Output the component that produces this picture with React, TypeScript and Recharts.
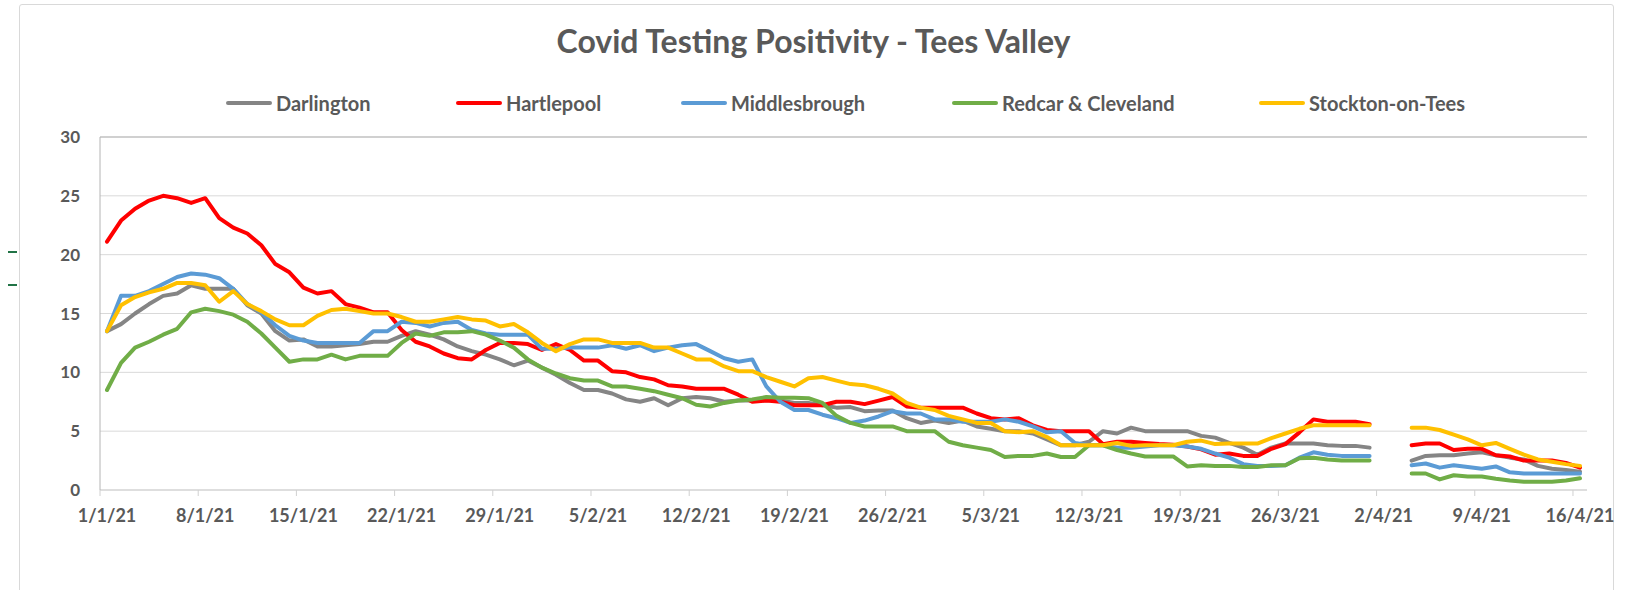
import { LineChart, Line, XAxis, YAxis, CartesianGrid, ReferenceLine } from "recharts";

// categories: one slot per day, 1 Jan 2021 .. 16 Apr 2021
const START = new Date(2021, 0, 1);
const DAY_COUNT = 106;
const dates: string[] = Array.from({ length: DAY_COUNT }, (_, i) => {
  const d = new Date(START.getFullYear(), START.getMonth(), START.getDate() + i);
  return `${d.getDate()}/${d.getMonth() + 1}/21`;
});

const Y_TICKS = [0, 5, 10, 15, 20, 25, 30];

// positivity (%) read from the sheet; Easter gap left empty
const darlington = [
  13.5, 14.1, 15.0, 15.8, 16.5, 16.7, 17.4, 17.1, 17.1, 17.1,
  15.7, 15.0, 13.5, 12.7, 12.8, 12.2, 12.2, 12.3, 12.4, 12.6,
  12.6, 13.1, 13.5, 13.2, 12.8, 12.2, 11.8, 11.5, 11.1, 10.6,
  11.0, 10.4, 9.8, 9.1, 8.5, 8.5, 8.2, 7.7, 7.5, 7.8,
  7.2, 7.8, 7.9, 7.8, 7.5, 7.6, 7.6, 7.65, 7.6, 7.4,
  7.4, 7.2, 7.0, 7.05, 6.7, 6.75, 6.75, 6.1, 5.7, 5.9,
  5.7, 5.9, 5.4, 5.2, 5.0, 5.0, 4.8, 4.3, 3.8, 3.8,
  4.1, 5.0, 4.8, 5.3, 5.0, 5.0, 5.0, 5.0, 4.6, 4.45,
  4.0, 3.6, 3.0, 3.6, 3.95, 3.95, 3.95, 3.8, 3.75, 3.75,
  3.6, null, null, 2.5, 2.9, 2.95, 2.95, 3.1, 3.2, 2.95,
  2.75, 2.6, 2.05, 1.8, 1.7, 1.55,
];

const hartlepool = [
  21.1, 22.9, 23.9, 24.6, 25.0, 24.8, 24.4, 24.8, 23.1, 22.3,
  21.8, 20.8, 19.2, 18.5, 17.2, 16.7, 16.9, 15.8, 15.5, 15.1,
  15.1, 13.6, 12.6, 12.2, 11.6, 11.2, 11.1, 11.9, 12.5, 12.5,
  12.4, 11.9, 12.4, 11.9, 11.0, 11.0, 10.1, 10.0, 9.6, 9.4,
  8.9, 8.8, 8.6, 8.6, 8.6, 8.1, 7.5, 7.6, 7.5, 7.2,
  7.2, 7.2, 7.5, 7.5, 7.3, 7.6, 7.9, 7.1, 7.0, 7.0,
  7.0, 7.0, 6.5, 6.1, 6.0, 6.1, 5.5, 5.1, 5.0, 5.0,
  5.0, 3.9, 4.1, 4.1, 4.0, 3.9, 3.85, 3.7, 3.45, 3.0,
  3.1, 2.9, 2.9, 3.5, 3.9, 4.9, 6.0, 5.8, 5.8, 5.8,
  5.6, null, null, 3.8, 3.95, 3.95, 3.4, 3.5, 3.5, 2.95,
  2.85, 2.5, 2.5, 2.5, 2.3, 1.9,
];

const middlesbrough = [
  13.5, 16.5, 16.5, 16.9, 17.5, 18.1, 18.4, 18.3, 18.0, 17.1,
  15.8, 15.1, 14.0, 13.1, 12.7, 12.5, 12.5, 12.5, 12.5, 13.5,
  13.5, 14.3, 14.2, 13.9, 14.2, 14.3, 13.6, 13.3, 13.2, 13.2,
  13.2, 12.0, 12.0, 12.1, 12.1, 12.1, 12.3, 12.0, 12.3, 11.8,
  12.1, 12.3, 12.4, 11.8, 11.2, 10.9, 11.1, 8.8, 7.5, 6.8,
  6.8, 6.4, 6.1, 5.7, 5.9, 6.25, 6.7, 6.5, 6.5, 6.0,
  6.0, 5.8, 5.8, 5.8, 6.0, 5.8, 5.4, 4.9, 5.0, 4.0,
  3.8, 3.8, 3.6, 3.6, 3.7, 3.8, 3.8, 3.7, 3.5, 3.1,
  2.75, 2.2, 2.05, 2.05, 2.1, 2.75, 3.2, 3.0, 2.9, 2.9,
  2.9, null, null, 2.1, 2.25, 1.9, 2.1, 1.95, 1.8, 2.0,
  1.5, 1.4, 1.4, 1.4, 1.4, 1.4,
];

const redcar = [
  8.5, 10.8, 12.1, 12.6, 13.2, 13.7, 15.1, 15.4, 15.2, 14.9,
  14.3, 13.3, 12.1, 10.9, 11.1, 11.1, 11.5, 11.1, 11.4, 11.4,
  11.4, 12.5, 13.3, 13.1, 13.4, 13.4, 13.5, 13.2, 12.7, 12.1,
  11.1, 10.4, 9.9, 9.5, 9.3, 9.3, 8.8, 8.8, 8.6, 8.4,
  8.1, 7.8, 7.25, 7.1, 7.4, 7.6, 7.7, 7.9, 7.85, 7.85,
  7.8, 7.4, 6.3, 5.7, 5.4, 5.4, 5.4, 5.0, 5.0, 5.0,
  4.1, 3.8, 3.6, 3.4, 2.8, 2.9, 2.9, 3.1, 2.8, 2.8,
  3.8, 3.8, 3.4, 3.1, 2.85, 2.85, 2.85, 2.0, 2.1, 2.05,
  2.05, 1.95, 1.95, 2.1, 2.1, 2.7, 2.75, 2.6, 2.5, 2.5,
  2.5, null, null, 1.4, 1.4, 0.9, 1.25, 1.15, 1.15, 0.95,
  0.8, 0.7, 0.7, 0.7, 0.8, 1.0,
];

const stockton = [
  13.5, 15.7, 16.4, 16.8, 17.1, 17.6, 17.6, 17.4, 16.0, 16.9,
  15.8, 15.2, 14.5, 14.0, 14.0, 14.8, 15.3, 15.4, 15.2, 15.0,
  15.0, 14.7, 14.3, 14.3, 14.5, 14.7, 14.5, 14.4, 13.9, 14.1,
  13.4, 12.5, 11.8, 12.4, 12.8, 12.8, 12.5, 12.5, 12.5, 12.1,
  12.1, 11.6, 11.1, 11.1, 10.5, 10.1, 10.1, 9.6, 9.2, 8.8,
  9.5, 9.6, 9.3, 9.0, 8.9, 8.6, 8.2, 7.4, 7.0, 6.8,
  6.3, 6.0, 5.7, 5.7, 5.0, 4.9, 5.0, 4.5, 3.8, 3.8,
  3.8, 3.8, 4.0, 3.75, 3.8, 3.8, 3.8, 4.1, 4.2, 3.9,
  3.95, 3.95, 3.95, 4.4, 4.8, 5.2, 5.5, 5.5, 5.5, 5.5,
  5.5, null, null, 5.3, 5.3, 5.1, 4.7, 4.3, 3.8, 4.0,
  3.5, 3.0, 2.6, 2.4, 2.2, 2.05,
];

const SERIES = [
  { key: "Darlington", values: darlington, color: "#858585" },
  { key: "Hartlepool", values: hartlepool, color: "#ff0000" },
  { key: "Middlesbrough", values: middlesbrough, color: "#5b9bd5" },
  { key: "Redcar & Cleveland", values: redcar, color: "#70ad47" },
  { key: "Stockton-on-Tees", values: stockton, color: "#ffc000" },
];

// legend entries sit where Excel put them (left edge of the swatch)
const LEGEND_LEFT = [226, 456, 681, 952, 1259];

const W = 1627;
const H = 590;
const PLOT = { left: 100, right: 1587, top: 137, bottom: 490 };
const BAND = (PLOT.right - PLOT.left) / DAY_COUNT;
const FONT = "Lato, 'Liberation Sans', sans-serif";
const TEXT = "#595959";

const data = dates.map((date, i) => {
  const row: Record<string, string | number | null> = { date };
  SERIES.forEach((s) => {
    row[s.key] = s.values[i];
  });
  return row;
});

function DateTick({ x, payload }: any) {
  const edge = x - BAND / 2;
  return (
    <g>
      <line x1={edge} x2={edge} y1={PLOT.bottom} y2={PLOT.bottom + 6} stroke="#d0d0d0" />
      <text x={x} y={PLOT.bottom + 32} textAnchor="middle" fill={TEXT} fontSize={18} fontWeight={700} fontFamily={FONT}>
        {payload.value}
      </text>
    </g>
  );
}

export default function App() {
  return (
    <div style={{ position: "absolute", left: 0, top: 0, width: W, height: H, background: "#fff", overflow: "hidden" }}>
      {/* chart frame */}
      <div style={{ position: "absolute", left: 19, top: 4, width: 1593, height: 620, border: "1px solid #d9d9d9", borderRadius: 3 }} />
      {/* stray sheet marks left of the chart */}
      <div style={{ position: "absolute", left: 8, top: 251, width: 9, height: 2, background: "#217346" }} />
      <div style={{ position: "absolute", left: 8, top: 284, width: 9, height: 2, background: "#217346" }} />

      <div style={{ position: "absolute", left: 0, top: 22, width: W, textAlign: "center", fontFamily: FONT, fontWeight: 700, fontSize: 32, lineHeight: "38px", color: TEXT }}>
        Covid Testing Positivity - Tees Valley
      </div>

      {SERIES.map((s, i) => (
        <div key={s.key} style={{ position: "absolute", left: LEGEND_LEFT[i], top: 91, height: 24, display: "flex", alignItems: "center", whiteSpace: "nowrap" }}>
          <span style={{ display: "inline-block", width: 46, height: 4, borderRadius: 2, background: s.color, marginRight: 4 }} />
          <span style={{ fontFamily: FONT, fontWeight: 700, fontSize: 20, color: TEXT }}>{s.key}</span>
        </div>
      ))}

      <LineChart
        width={W}
        height={H}
        data={data}
        margin={{ top: PLOT.top, right: W - PLOT.right, bottom: 70, left: 0 }}
      >
        <CartesianGrid vertical={false} stroke="#d9d9d9" />
        <XAxis
          dataKey="date"
          scale="band"
          interval={6}
          height={30}
          tickLine={false}
          axisLine={{ stroke: "#d0d0d0" }}
          tick={<DateTick />}
        />
        <YAxis
          domain={[0, 30]}
          ticks={Y_TICKS}
          width={PLOT.left}
          tickLine={false}
          tickSize={0}
          tickMargin={20}
          axisLine={{ stroke: "#b4b4b4" }}
          tick={{ fill: TEXT, fontSize: 17, fontWeight: 700, fontFamily: FONT }}
        />
        <YAxis yAxisId="frame" orientation="right" width={0} tick={false} tickLine={false} axisLine={{ stroke: "#b4b4b4" }} />
        <ReferenceLine y={30} stroke="#b4b4b4" />
        {SERIES.map((s) => (
          <Line
            key={s.key}
            type="linear"
            dataKey={s.key}
            stroke={s.color}
            strokeWidth={4}
            strokeLinejoin="round"
            strokeLinecap="round"
            dot={false}
            activeDot={false}
            isAnimationActive={false}
          />
        ))}
      </LineChart>
    </div>
  );
}
